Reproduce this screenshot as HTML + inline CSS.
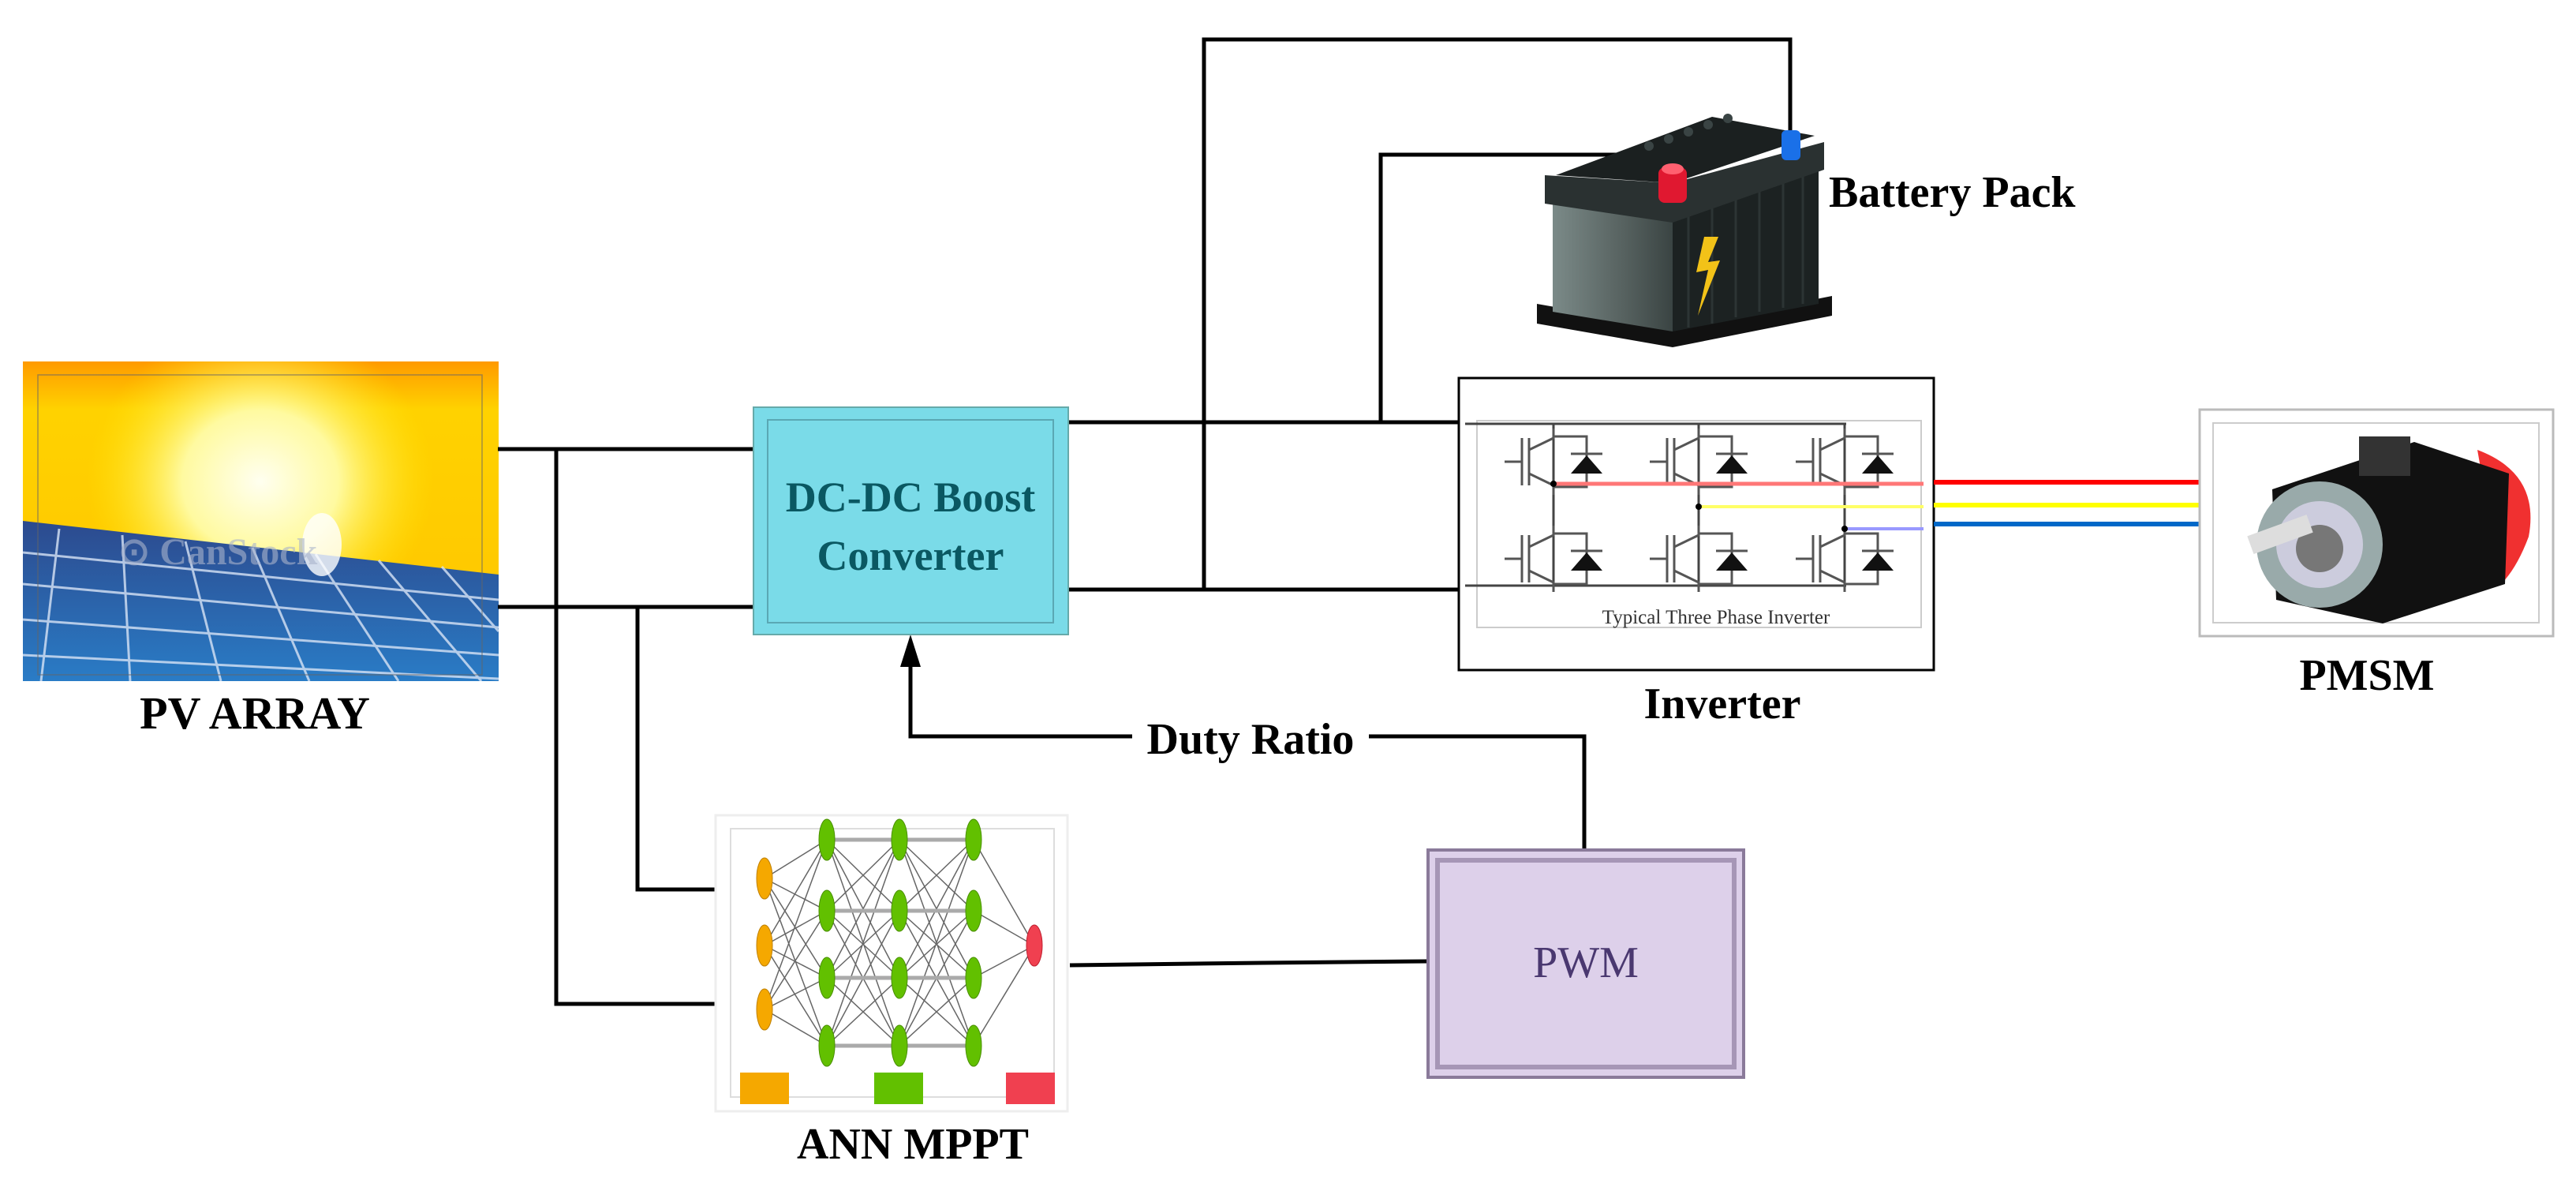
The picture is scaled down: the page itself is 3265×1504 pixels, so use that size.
<!DOCTYPE html>
<html><head><meta charset="utf-8"><style>
html,body{margin:0;padding:0;background:#fff;}
svg{display:block;}
text{font-family:"Liberation Serif",serif;}
</style></head><body>
<svg width="3265" height="1504" viewBox="0 0 3265 1504" xmlns="http://www.w3.org/2000/svg">
<defs>
<linearGradient id="sky" x1="0" y1="0" x2="0" y2="1">
<stop offset="0" stop-color="#ff9a00"/><stop offset="0.15" stop-color="#ffd200"/><stop offset="1" stop-color="#ffc400"/></linearGradient>
<radialGradient id="sun" cx="0.5" cy="0.5" r="0.5"><stop offset="0" stop-color="#fffff0"/><stop offset="0.45" stop-color="#fffaa0"/><stop offset="1" stop-color="#ffe800" stop-opacity="0"/></radialGradient>
<linearGradient id="panel" x1="0" y1="0" x2="0" y2="1"><stop offset="0" stop-color="#2c4a8e"/><stop offset="1" stop-color="#2a7cc6"/></linearGradient>
<linearGradient id="bat" x1="0" y1="0" x2="1" y2="0"><stop offset="0" stop-color="#7b8a88"/><stop offset="0.6" stop-color="#56615f"/><stop offset="1" stop-color="#3a4443"/></linearGradient>
<clipPath id="pvc"><rect x="29" y="458" width="603" height="405"/></clipPath>
<g id="igbt" stroke="#555" stroke-width="3" fill="none">
<line x1="0" y1="0" x2="0" y2="60"/><line x1="9" y1="0" x2="9" y2="60"/>
<line x1="-22" y1="30" x2="0" y2="30"/>
<polyline points="9,15 40,0 40,-12"/><polyline points="9,45 40,60 40,72"/>
<polyline points="40,-2 82,-2 82,62 40,62"/>
<line x1="62" y1="20" x2="102" y2="20"/>
</g>
</defs>

<!-- PV ARRAY -->
<g clip-path="url(#pvc)">
<rect x="29" y="458" width="603" height="405" fill="url(#sky)"/>
<ellipse cx="330" cy="610" rx="220" ry="200" fill="url(#sun)"/>
<polygon points="29,660 632,728 632,863 29,863" fill="url(#panel)"/>
<g stroke="#d8e4f6" stroke-width="3" opacity="0.8">
<line x1="29" y1="700" x2="632" y2="760"/><line x1="29" y1="740" x2="632" y2="795"/><line x1="29" y1="785" x2="632" y2="830"/><line x1="29" y1="830" x2="632" y2="860"/>
<line x1="75" y1="670" x2="52" y2="863"/><line x1="155" y1="678" x2="165" y2="863"/><line x1="235" y1="686" x2="280" y2="863"/><line x1="320" y1="694" x2="392" y2="863"/><line x1="400" y1="702" x2="505" y2="863"/><line x1="480" y1="710" x2="610" y2="863"/><line x1="560" y1="718" x2="632" y2="800"/>
</g>
<ellipse cx="408" cy="690" rx="25" ry="40" fill="#fff" opacity="0.8"/>
<text x="150" y="715" font-size="48" fill="#aab4cc" opacity="0.6" font-family="Liberation Sans,sans-serif" font-weight="bold">⊙ CanStock</text>
</g>
<rect x="48" y="475" width="563" height="380" fill="none" stroke="#666" stroke-width="1.5" opacity="0.6"/>
<text x="323" y="923" font-size="58" font-weight="bold" text-anchor="middle">PV ARRAY</text>

<!-- connectors -->
<g stroke="#000" stroke-width="5" fill="none">
<line x1="631" y1="569" x2="957" y2="569"/>
<line x1="631" y1="769" x2="957" y2="769"/>
<polyline points="705,569 705,1272 910,1272"/>
<polyline points="808,769 808,1127 910,1127"/>
<line x1="1354" y1="535" x2="1852" y2="535"/>
<line x1="1354" y1="747" x2="1852" y2="747"/>
<polyline points="1526,747 1526,50 2269,50 2269,172"/>
<polyline points="1750,535 1750,196 2120,196 2120,218"/>
<polyline points="1356,1223 1600,1220 1810,1218"/>
<polyline points="2008,1077 2008,933 1154,933 1154,840"/>
</g>
<polygon points="1154,804 1141,845 1167,845" fill="#000"/>
<rect x="1435" y="905" width="300" height="60" fill="#fff"/>
<text x="1585" y="955" font-size="56" font-weight="bold" text-anchor="middle">Duty Ratio</text>

<!-- DC-DC -->
<rect x="955" y="516" width="399" height="288" fill="#7adbe8" stroke="#6aa" stroke-width="2"/>
<rect x="973" y="532" width="362" height="257" fill="none" stroke="#5aa8b4" stroke-width="2"/>
<text x="1154" y="648" font-size="54" font-weight="bold" text-anchor="middle" fill="#0a5862">DC-DC Boost</text>
<text x="1154" y="722" font-size="54" font-weight="bold" text-anchor="middle" fill="#0a5862">Converter</text>

<!-- Battery -->
<polygon points="1948,410 2120,440 2322,400 2322,375 2120,415 1948,385" fill="#111"/>
<polygon points="1968,255 2120,265 2120,420 1968,395" fill="url(#bat)"/>
<polygon points="2120,265 2305,200 2305,385 2120,420" fill="#1c2222"/>
<g stroke="#2c3434" stroke-width="3"><line x1="2140" y1="270" x2="2140" y2="415"/><line x1="2170" y1="260" x2="2170" y2="410"/><line x1="2200" y1="250" x2="2200" y2="402"/><line x1="2230" y1="238" x2="2230" y2="395"/><line x1="2260" y1="228" x2="2260" y2="390"/><line x1="2285" y1="218" x2="2285" y2="385"/></g>
<polygon points="1958,222 2120,232 2312,180 2312,215 2120,282 1958,258" fill="#2a3131"/>
<polygon points="1972,222 2170,148 2300,172 2120,232" fill="#1b2020"/>
<g fill="#3a4444"><circle cx="2090" cy="185" r="6"/><circle cx="2115" cy="176" r="6"/><circle cx="2140" cy="167" r="6"/><circle cx="2165" cy="158" r="6"/><circle cx="2190" cy="150" r="6"/></g>
<polygon points="2160,300 2150,345 2165,342 2152,400 2180,330 2165,332 2178,300" fill="#f2c218"/>
<rect x="2102" y="212" width="36" height="45" rx="8" fill="#e01830"/>
<ellipse cx="2120" cy="214" rx="14" ry="7" fill="#ff6070"/>
<rect x="2258" y="165" width="24" height="38" rx="6" fill="#1a70e8"/>
<text x="2318" y="262" font-size="56" font-weight="bold">Battery Pack</text>

<!-- Inverter -->
<rect x="1849" y="479" width="602" height="370" fill="#fff" stroke="#000" stroke-width="3"/>
<rect x="1872" y="533" width="563" height="262" fill="none" stroke="#ccc" stroke-width="2"/>
<g stroke="#444" stroke-width="3" fill="none">
<polyline points="1857,537 2340,537"/>
<polyline points="1857,742 2340,742"/>
<line x1="1969" y1="537" x2="1969" y2="742"/>
<line x1="2153" y1="537" x2="2153" y2="742"/>
<line x1="2338" y1="537" x2="2338" y2="742"/>
</g>
<use href="#igbt" x="1929" y="555"/><use href="#igbt" x="2113" y="555"/><use href="#igbt" x="2298" y="555"/>
<use href="#igbt" x="1929" y="678"/><use href="#igbt" x="2113" y="678"/><use href="#igbt" x="2298" y="678"/>
<g fill="#111">
<polygon points="1991,600 2031,600 2011,577"/><polygon points="2175,600 2215,600 2195,577"/><polygon points="2360,600 2400,600 2380,577"/>
<polygon points="1991,723 2031,723 2011,700"/><polygon points="2175,723 2215,723 2195,700"/><polygon points="2360,723 2400,723 2380,700"/>
</g>
<line x1="1969" y1="613" x2="2438" y2="613" stroke="#f77" stroke-width="5"/>
<line x1="2153" y1="642" x2="2438" y2="642" stroke="#ff6" stroke-width="4"/>
<line x1="2338" y1="670" x2="2438" y2="670" stroke="#99f" stroke-width="4"/>
<circle cx="1969" cy="613" r="4"/><circle cx="2153" cy="642" r="4"/><circle cx="2338" cy="670" r="4"/>
<text x="2175" y="790" font-size="25" fill="#333" text-anchor="middle" font-family="Liberation Sans,sans-serif">Typical Three Phase Inverter</text>
<text x="2183" y="910" font-size="56" font-weight="bold" text-anchor="middle">Inverter</text>

<!-- phase lines -->
<line x1="2451" y1="611" x2="2791" y2="611" stroke="#f00" stroke-width="6"/>
<line x1="2451" y1="640" x2="2791" y2="640" stroke="#ff0" stroke-width="6"/>
<line x1="2451" y1="664" x2="2791" y2="664" stroke="#0068c8" stroke-width="6"/>

<!-- PMSM -->
<rect x="2788" y="519" width="448" height="287" fill="#fff" stroke="#bbb" stroke-width="3"/>
<rect x="2805" y="536" width="413" height="253" fill="none" stroke="#ccc" stroke-width="2"/>
<path d="M3140,570 Q3220,600 3205,680 Q3190,720 3170,740 Z" fill="#f03030"/>
<polygon points="2880,620 3060,560 3180,600 3175,740 3020,790 2885,760" fill="#111"/>
<rect x="2990" y="553" width="65" height="50" fill="#333"/>
<circle cx="2940" cy="690" r="80" fill="#9aa"/>
<circle cx="2940" cy="690" r="55" fill="#ccd"/>
<circle cx="2940" cy="695" r="30" fill="#777"/>
<rect x="2850" y="665" width="80" height="24" fill="#ddd" transform="rotate(-20 2890 677)"/>
<text x="3000" y="874" font-size="56" font-weight="bold" text-anchor="middle">PMSM</text>

<!-- ANN -->
<rect x="907" y="1033" width="446" height="375" fill="#fff" stroke="#eee" stroke-width="3"/>
<rect x="926" y="1050" width="410" height="340" fill="none" stroke="#ddd" stroke-width="2"/>
<g stroke="#666" stroke-width="1.5">
<path d="M969,1113 L1048,1064 M969,1113 L1048,1154 M969,1113 L1048,1239 M969,1113 L1048,1325 M969,1198 L1048,1064 M969,1198 L1048,1154 M969,1198 L1048,1239 M969,1198 L1048,1325 M969,1279 L1048,1064 M969,1279 L1048,1154 M969,1279 L1048,1239 M969,1279 L1048,1325"/>
<path d="M1048,1064 L1140,1154 M1048,1064 L1140,1239 M1048,1064 L1140,1325 M1048,1154 L1140,1064 M1048,1154 L1140,1239 M1048,1154 L1140,1325 M1048,1239 L1140,1064 M1048,1239 L1140,1154 M1048,1239 L1140,1325 M1048,1325 L1140,1064 M1048,1325 L1140,1154 M1048,1325 L1140,1239"/>
<path d="M1140,1064 L1234,1154 M1140,1064 L1234,1239 M1140,1064 L1234,1325 M1140,1154 L1234,1064 M1140,1154 L1234,1239 M1140,1154 L1234,1325 M1140,1239 L1234,1064 M1140,1239 L1234,1154 M1140,1239 L1234,1325 M1140,1325 L1234,1064 M1140,1325 L1234,1154 M1140,1325 L1234,1239"/>
<path d="M1234,1064 L1311,1198 M1234,1154 L1311,1198 M1234,1239 L1311,1198 M1234,1325 L1311,1198"/>
</g>
<g stroke="#aaa" stroke-width="5"><line x1="1048" y1="1064" x2="1234" y2="1064"/><line x1="1048" y1="1154" x2="1234" y2="1154"/><line x1="1048" y1="1239" x2="1234" y2="1239"/><line x1="1048" y1="1325" x2="1234" y2="1325"/></g>
<g fill="#f5a800" stroke="#c08000"><ellipse cx="969" cy="1113" rx="10" ry="26"/><ellipse cx="969" cy="1198" rx="10" ry="26"/><ellipse cx="969" cy="1279" rx="10" ry="26"/></g>
<g fill="#62c000" stroke="#4a9000">
<ellipse cx="1048" cy="1064" rx="10" ry="26"/><ellipse cx="1048" cy="1154" rx="10" ry="26"/><ellipse cx="1048" cy="1239" rx="10" ry="26"/><ellipse cx="1048" cy="1325" rx="10" ry="26"/>
<ellipse cx="1140" cy="1064" rx="10" ry="26"/><ellipse cx="1140" cy="1154" rx="10" ry="26"/><ellipse cx="1140" cy="1239" rx="10" ry="26"/><ellipse cx="1140" cy="1325" rx="10" ry="26"/>
<ellipse cx="1234" cy="1064" rx="10" ry="26"/><ellipse cx="1234" cy="1154" rx="10" ry="26"/><ellipse cx="1234" cy="1239" rx="10" ry="26"/><ellipse cx="1234" cy="1325" rx="10" ry="26"/>
</g>
<ellipse cx="1311" cy="1198" rx="10" ry="26" fill="#f04050" stroke="#c02030"/>
<rect x="938" y="1359" width="62" height="40" fill="#f5a800"/>
<rect x="1108" y="1359" width="62" height="40" fill="#62c000"/>
<rect x="1275" y="1359" width="62" height="40" fill="#f04050"/>
<text x="1157" y="1468" font-size="56" font-weight="bold" text-anchor="middle">ANN MPPT</text>

<!-- PWM -->
<rect x="1810" y="1077" width="400" height="288" fill="#ddd0ea" stroke="#8a7a9a" stroke-width="4"/>
<rect x="1822" y="1090" width="376" height="262" fill="none" stroke="#a696b6" stroke-width="6"/>
<text x="2010" y="1238" font-size="56" text-anchor="middle" fill="#4a3870">PWM</text>
</svg>
</body></html>
